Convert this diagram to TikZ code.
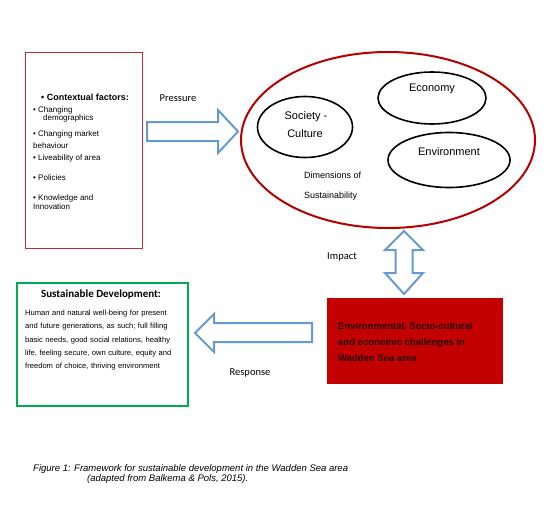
\documentclass[tikz,border=0pt]{standalone}
\usepackage{fontspec}
\setmainfont{Liberation Sans}
\newfontfamily\calibri{Carlito}
\usetikzlibrary{shapes.geometric}
\definecolor{boxred}{RGB}{204,40,50}
\definecolor{ellred}{RGB}{180,0,0}
\definecolor{fillred}{RGB}{194,0,0}
\definecolor{txtdark}{RGB}{35,0,0}
\definecolor{arrblue}{RGB}{100,155,210}
\definecolor{boxgreen}{RGB}{0,170,80}
\tikzset{
  lbl/.style={inner sep=0pt, font=\fontsize{8}{9}\selectfont, anchor=base west},
  flow/.style={inner sep=0pt, font=\calibri\fontsize{10.5}{12}\selectfont},
  dim/.style={draw=black, line width=1.6pt, ellipse, inner sep=0pt},
  dimtxt/.style={inner sep=0pt, font=\fontsize{11}{12}\selectfont},
  blockarrow/.style={draw=arrblue, line width=2pt, fill=white, line join=miter},
}
\begin{document}
\begin{tikzpicture}[x=1pt,y=-1pt]
\useasboundingbox (0,0) rectangle (553,511);
% contextual factors box
\node[draw=boxred, line width=1pt, minimum width=117pt, minimum height=196pt, anchor=north west, inner sep=0pt] (ctx) at (25,52) {};
\node[lbl, font=\bfseries\fontsize{9}{10}\selectfont] (c0) at (41,100) {• Contextual factors:};
\node[lbl] (c1) at (33,112) {• Changing};
\node[lbl] (c1b) at (43,120) {demographics};
\node[lbl] (c2) at (33,136) {• Changing market};
\node[lbl] (c2b) at (33,148) {behaviour};
\node[lbl] (c3) at (33,160) {• Liveability of area};
\node[lbl] (c4) at (33,180) {• Policies};
\node[lbl] (c5) at (33,200) {• Knowledge and};
\node[lbl] (c5b) at (33,209) {Innovation};
% pressure arrow
\node[flow] (pressure) at (178,98) {Pressure};
\draw[blockarrow] (147,122) -- (218,122) -- (218,110) -- (238,131.5) -- (218,153) -- (218,141) -- (147,141) -- cycle;
% dimensions ellipse
\node[draw=ellred, line width=2pt, ellipse, minimum width=294pt, minimum height=176pt, inner sep=0pt] (dims) at (388,140) {};
\node[dim, minimum width=95pt, minimum height=61pt] (soc) at (305,127) {};
\node[dimtxt] (soct) at (306,117) {Society -};
\node[dimtxt] (socc) at (305,134) {Culture};
\node[dim, minimum width=108pt, minimum height=52pt] (eco) at (432,98) {};
\node[dimtxt] (ecot) at (432,89) {Economy};
\node[dim, minimum width=122pt, minimum height=55pt] (env) at (449,160) {};
\node[dimtxt] (envt) at (449,152) {Environment};
\node[inner sep=0pt, font=\fontsize{9}{10}\selectfont, anchor=west] (dimt1) at (304,175) {Dimensions of};
\node[inner sep=0pt, font=\fontsize{9}{10}\selectfont, anchor=west] (dimt2) at (304,196) {Sustainability};
% impact
\node[flow] (impact) at (342,257) {Impact};
\draw[blockarrow] (404,231) -- (423,250) -- (412.5,250) -- (412.5,273) -- (423,273) -- (404,294) -- (385,273) -- (395.5,273) -- (395.5,250) -- (385,250) -- cycle;
% challenges box
\node[fill=fillred, minimum width=176pt, minimum height=86pt, anchor=north west, inner sep=0pt] (chal) at (327,298) {};
\node[inner sep=0pt, anchor=north west, align=left, text=txtdark, font=\bfseries\fontsize{9.5}{16}\selectfont] (chalt) at (338,322) {Environmental, Socio-cultural\\and economic challenges in\\Wadden Sea area};
% response arrow
\draw[blockarrow] (312,323) -- (214,323) -- (214,314) -- (195,333) -- (214,352) -- (214,342) -- (312,342) -- cycle;
\node[flow] (response) at (250,373) {Response};
% sustainable development box
\node[draw=boxgreen, line width=2pt, minimum width=171pt, minimum height=123pt, anchor=north west, inner sep=0pt] (sd) at (16,282) {};
\node[inner sep=0pt, font=\calibri\bfseries\fontsize{11}{12}\selectfont] (sdt) at (101,295) {Sustainable Development:};
\node[inner sep=0pt, anchor=north west, text width=152pt, font=\fontsize{7.6}{13.25}\selectfont] (sdb) at (25,310) {%
\makebox[\linewidth][s]{Human and natural well-being for present}\\
\makebox[\linewidth][s]{and future generations, as such; full filling}\\
\makebox[\linewidth][s]{basic needs, good social relations, healthy}\\
\makebox[\linewidth][s]{life, feeling secure, own culture, equity and}\\
freedom of choice, thriving environment};
% caption
\node[inner sep=0pt, anchor=base west, font=\itshape\fontsize{9.5}{11}\selectfont] (cap1) at (33,471) {Figure 1: Framework for sustainable development in the Wadden Sea area};
\node[inner sep=0pt, anchor=base west, font=\itshape\fontsize{9.5}{11}\selectfont] (cap2) at (87,481) {(adapted from Balkema \& Pols, 2015).};
\end{tikzpicture}
\end{document}
